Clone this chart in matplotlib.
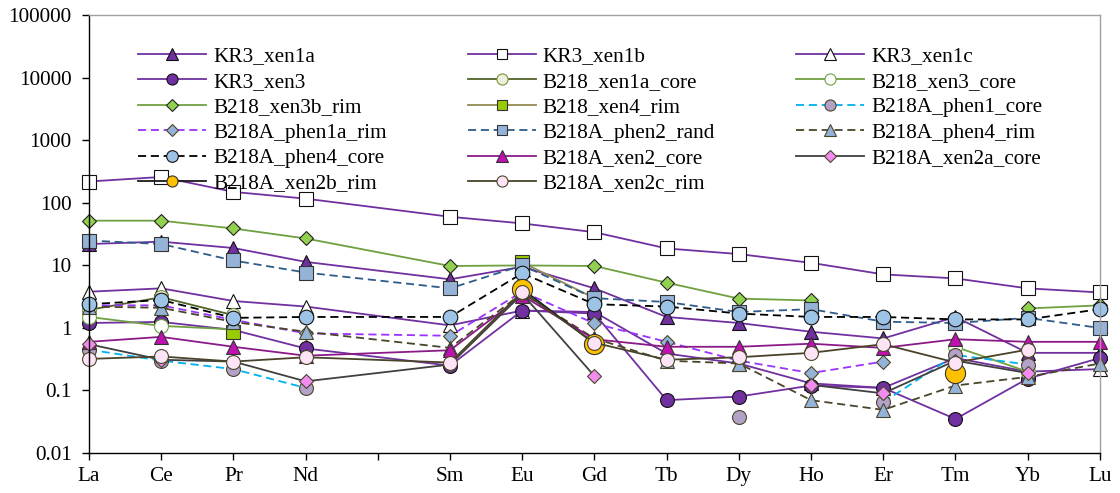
import numpy as np
import matplotlib
matplotlib.use("Agg")
import matplotlib.pyplot as plt
from matplotlib.lines import Line2D
from matplotlib.ticker import NullLocator

plt.rcParams["font.family"] = ["Liberation Serif", "DejaVu Serif"]

nan = np.nan

# REE on an atomic-number axis (Pm = 61 has a tick but no label and no data)
tick_numbers = list(range(57, 72))
tick_labels = ["La", "Ce", "Pr", "Nd", "", "Sm", "Eu", "Gd", "Tb", "Dy", "Ho", "Er", "Tm", "Yb", "Lu"]
x_ree = [57, 58, 59, 60, 62, 63, 64, 65, 66, 67, 68, 69, 70, 71]

# chondrite-normalised concentrations, order: La Ce Pr Nd Sm Eu Gd Tb Dy Ho Er Tm Yb Lu
kr3_xen1a = [22, 24, 19, 11.4, 6.0, 9.5, 4.3, 1.5, 1.2, 0.87, 0.68, 1.5, 0.40, 0.40]
kr3_xen1b = [220, 260, 150, 117, 60, 47, 34, 18.7, 15.2, 11, 7.2, 6.2, 4.3, 3.7]
kr3_xen1c = [3.8, 4.3, 2.7, 2.2, 1.1, 1.9, 1.8, 0.39, 0.27, 0.13, 0.11, 0.33, 0.2, 0.22]
kr3_xen3 = [1.2, 1.25, 0.93, 0.47, 0.25, 1.9, 1.7, 0.07, 0.08, 0.12, 0.11, 0.035, 0.155, 0.33]
b218_xen1a_core = [1.95, 3.1, 1.6, nan, nan, nan, nan, nan, nan, nan, nan, nan, nan, nan]
b218_xen3_core = [1.5, 1.08, 0.95, nan, nan, nan, nan, nan, nan, nan, nan, 0.5, 0.2, nan]
b218_xen3b_rim = [52, 52, 39, 27, 9.8, 10, 9.8, 5.3, 2.95, 2.75, nan, nan, 2.05, 2.3]
b218_xen4_rim = [nan, nan, 0.86, nan, nan, 11.2, 3.0, nan, nan, nan, nan, nan, nan, nan]
b218a_phen1_core = [0.45, 0.30, 0.22, 0.11, nan, nan, nan, nan, 0.038, nan, 0.065, 0.37, 0.26, nan]
b218a_phen1a_rim = [2.3, 2.3, 1.35, 0.82, 0.75, 3.8, 1.18, 0.6, 0.3, 0.19, 0.29, nan, nan, nan]
b218a_phen2_rand = [25, 22, 12, 7.7, 4.3, 10, 3.0, 2.6, 1.8, 2.0, 1.26, 1.2, 1.45, 1.0]
b218a_phen4_rim = [2.2, 2.1, 1.25, 0.87, 0.48, 3.6, 0.68, 0.3, 0.27, 0.07, 0.049, 0.12, 0.165, 0.27]
b218a_phen4_core = [2.4, 2.8, 1.45, 1.5, 1.5, 7.5, 2.4, 2.2, 1.7, 1.5, 1.5, 1.37, 1.37, 2.0]
b218a_xen2_core = [0.6, 0.72, 0.5, 0.36, 0.44, 3.3, 0.66, 0.5, 0.5, 0.56, 0.48, 0.66, 0.6, 0.6]
b218a_xen2a_core = [0.55, 0.31, 0.29, 0.14, 0.26, 3.5, 0.17, nan, nan, 0.123, 0.09, 0.3, 0.19, nan]
b218a_xen2b_rim = [nan, nan, nan, nan, nan, 4.2, 0.56, nan, nan, nan, nan, 0.19, nan, nan]
b218a_xen2c_rim = [0.32, 0.35, 0.29, 0.34, 0.28, 3.8, 0.58, 0.31, 0.34, 0.40, 0.55, 0.28, 0.45, nan]

PURPLE = "#7030A0"
DASH = (0, (4.5, 2.6))
FS = 15.3

# name, values, line colour, line style, marker, face, edge, marker size
series = [
    ("KR3_xen1a", kr3_xen1a, PURPLE, "-", "^", PURPLE, "#111111", 10),
    ("KR3_xen1b", kr3_xen1b, PURPLE, "-", "s", "white", "#111111", 9.5),
    ("KR3_xen1c", kr3_xen1c, PURPLE, "-", "^", "white", "#111111", 10),
    ("KR3_xen3", kr3_xen3, PURPLE, "-", "o", PURPLE, "#111111", 10),
    ("B218_xen1a_core", b218_xen1a_core, "#4F6228", "-", "o", "#EBF1DE", "#77933C", 10),
    ("B218_xen3_core", b218_xen3_core, "#6FA040", "-", "o", "white", "#6FA040", 10),
    ("B218_xen3b_rim", b218_xen3b_rim, "#6FA040", "-", "D", "#92D050", "#222222", 7.5),
    ("B218_xen4_rim", b218_xen4_rim, "#948A54", "-", "s", "#99CC00", "#333333", 9.5),
    ("B218A_phen1_core", b218a_phen1_core, "#00B0F0", DASH, "o", "#B3A2C7", "#4A452A", 10),
    ("B218A_phen1a_rim", b218a_phen1a_rim, "#9933FF", DASH, "D", "#95B3D7", "#4A452A", 7.5),
    ("B218A_phen2_rand", b218a_phen2_rand, "#2E5C8A", DASH, "s", "#95B3D7", "#333333", 9.5),
    ("B218A_phen4_rim", b218a_phen4_rim, "#4A452A", DASH, "^", "#95B3D7", "#4A452A", 10),
    ("B218A_phen4_core", b218a_phen4_core, "#000000", DASH, "o", "#9DC3E6", "#111111", 10.5),
    ("B218A_xen2_core", b218a_xen2_core, "#8B1A89", "-", "^", "#C010B0", "#333333", 10),
    ("B218A_xen2a_core", b218a_xen2a_core, "#404040", "-", "D", "#F28CF0", "#4A452A", 7.5),
    ("B218A_xen2b_rim", b218a_xen2b_rim, "#1A1A1A", "-", "o", "#FFC000", "#333333", 14.5),
    ("B218A_xen2c_rim", b218a_xen2c_rim, "#494429", "-", "o", "#FCE4F6", "#4A452A", 10),
]

fig = plt.figure(figsize=(11.2, 4.93), dpi=100)
ax = fig.add_axes([0.0795, 0.0811, 0.9025, 0.8878])

for name, vals, lc, ls, mk, fc, ec, ms in series:
    ax.plot(x_ree, np.array(vals, dtype=float), color=lc, linestyle=ls, linewidth=1.3,
            marker=mk, markerfacecolor=fc, markeredgecolor=ec, markeredgewidth=0.8,
            markersize=ms, clip_on=False)

ax.set_yscale("log")
ax.set_ylim(0.01, 100000)
ax.set_xlim(57, 71)
yt = [0.01, 0.1, 1, 10, 100, 1000, 10000, 100000]
ax.set_yticks(yt)
ax.set_yticklabels(["0.01", "0.1", "1", "10", "100", "1000", "10000", "100000"])
ax.yaxis.set_minor_locator(NullLocator())
ax.set_xticks(tick_numbers)
ax.set_xticklabels(tick_labels)
ax.tick_params(axis="both", direction="out", length=5, width=1.0, labelsize=FS,
               colors="#000000")
ax.tick_params(axis="x", pad=5)
ax.tick_params(axis="y", pad=7.5)

for side in ("left", "bottom"):
    ax.spines[side].set_color("#000000")
    ax.spines[side].set_linewidth(1.0)
for side in ("top", "right"):
    ax.spines[side].set_color("#A0A0A0")
    ax.spines[side].set_linewidth(1.0)

# legend laid out row by row across three columns
order = [0, 3, 6, 9, 12, 15, 1, 4, 7, 10, 13, 16, 2, 5, 8, 11, 14]
handles = []
for i in order:
    name, vals, lc, ls, mk, fc, ec, ms = series[i]
    handles.append(Line2D([], [], color=lc, linestyle=ls, linewidth=1.3, marker=mk,
                          markerfacecolor=fc, markeredgecolor=ec, markeredgewidth=0.8,
                          markersize=(ms if ms < 12 else 10) * 0.8, label=name))
ax.legend(handles=handles, ncol=3, loc="upper left",
          bbox_to_anchor=(138 / 1120, 1 - 46.5 / 493), bbox_transform=fig.transFigure,
          frameon=False, fontsize=FS, handlelength=3.2, handletextpad=0.33,
          columnspacing=3.82, labelspacing=0.26, borderpad=0, borderaxespad=0)

fig.savefig("out.png", dpi=100)
